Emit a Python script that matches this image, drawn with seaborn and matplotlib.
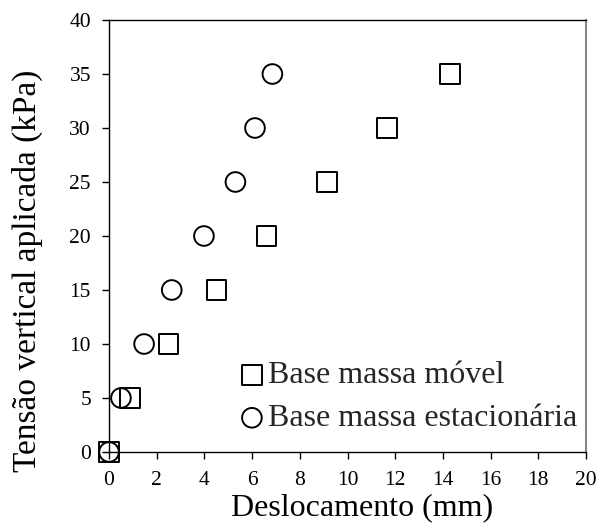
"""Tensão vertical aplicada vs deslocamento, duas condições de base."""

import matplotlib.pyplot as plt
import pandas as pd
import seaborn as sns

TENSAO = [0, 5, 10, 15, 20, 25, 30, 35]
DESL_MOVEL = [0.0, 0.88, 2.5, 4.5, 6.6, 9.15, 11.65, 14.3]
DESL_ESTAC = [0.0, 0.5, 1.47, 2.63, 3.98, 5.3, 6.12, 6.85]
LABEL_MOVEL = "Base massa móvel"
LABEL_ESTAC = "Base massa estacionária"

sns.set_theme(style="white")
plt.rcParams["font.family"] = ["Liberation Serif", "DejaVu Serif"]

df_movel = pd.DataFrame({"desl": DESL_MOVEL, "tensao": TENSAO})
df_estac = pd.DataFrame({"desl": DESL_ESTAC, "tensao": TENSAO})

fig = plt.figure(figsize=(6.0, 5.32), dpi=100)
ax = fig.add_axes([0.1817, 0.1504, 0.795, 0.812])

marker_kw = dict(facecolors="none", edgecolor="black", linewidth=1.4,
                 s=200, clip_on=False, zorder=3)
sns.scatterplot(data=df_movel, x="desl", y="tensao", marker="s",
                label=LABEL_MOVEL, ax=ax, **marker_kw)
sns.scatterplot(data=df_estac, x="desl", y="tensao", marker="o",
                label=LABEL_ESTAC, ax=ax, **marker_kw)

ax.set_xlim(0, 20)
ax.set_ylim(0, 40)
ax.set_xticks(range(0, 21, 2))
ax.set_yticks(range(0, 41, 5))
ax.set_xlabel("Deslocamento (mm)", fontsize=23, color="black")
ax.set_ylabel("Tensão vertical aplicada (kPa)", fontsize=24, color="black")
ax.xaxis.set_label_coords(0.53, -0.095)
ax.yaxis.set_label_coords(-0.138, 0.419)
ax.tick_params(axis="both", which="major", direction="out", length=5,
               width=1, pad=8, labelsize=15.5, colors="black",
               bottom=True, left=True)
ax.tick_params(axis="x", pad=9)

for side in ["left", "bottom", "top"]:
    ax.spines[side].set_color("black")
    ax.spines[side].set_linewidth(1)
ax.spines["right"].set_color("#888888")
ax.spines["right"].set_linewidth(1.5)

ax.legend(loc="lower left", bbox_to_anchor=(0.246, 0.014), frameon=False,
          fontsize=23, handletextpad=0.1, labelspacing=0.42,
          borderaxespad=0, handlelength=0.8, markerscale=1.0)

fig.savefig("out.png", dpi=100)
